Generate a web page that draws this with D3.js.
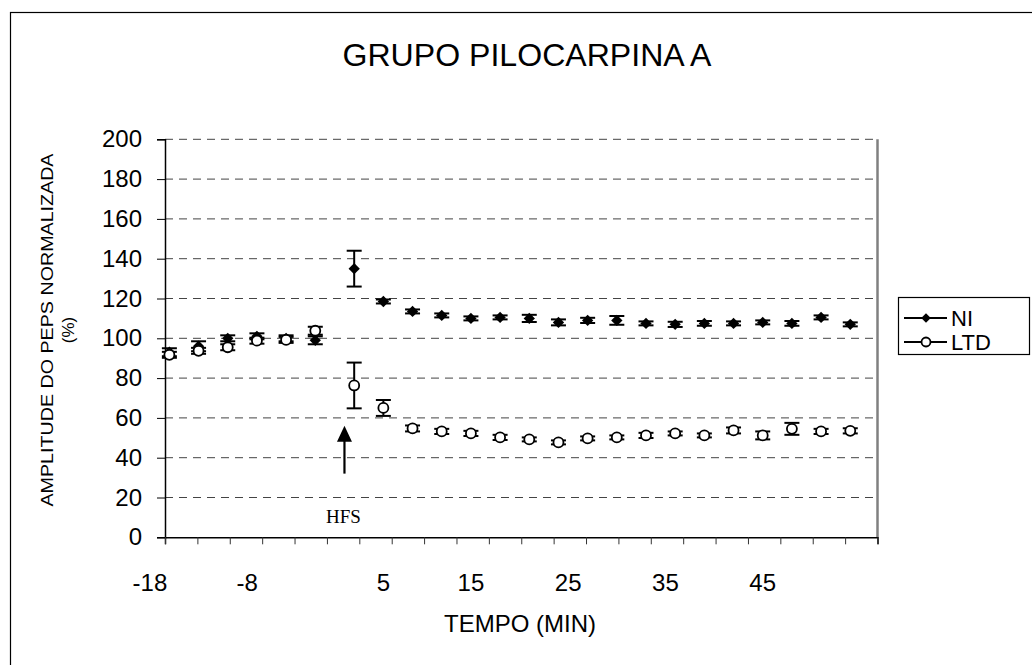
<!DOCTYPE html>
<html>
<head>
<meta charset="utf-8">
<script src="https://cdn.jsdelivr.net/npm/d3@7"></script>
<style>
  html, body { margin: 0; padding: 0; background: #fff; }
  svg { display: block; }
</style>
</head>
<body>
<svg id="chart" width="1032" height="665" font-family="Liberation Sans, Arial, sans-serif"></svg>
<script>
// Time points (min) relative to the HFS train
const times = [-16, -13, -10, -7, -4, -1, 3, 6, 9, 12, 15, 18, 21, 24, 27, 30, 33, 36, 39, 42, 45, 48, 51, 54];

// NI series: mean normalized fEPSP amplitude (%) and SEM
const niMean = [93, 96, 100, 101, 100, 99, 135, 118.5, 113.5, 111.5, 110, 110.5, 110, 108, 109, 109, 107.5, 107, 107.5, 107.5, 108, 107.5, 110.5, 107];
const niErr  = [2, 2.5, 1.5, 1.5, 1.5, 2, 9, 1, 1, 1, 1, 1, 1.8, 1.5, 1.3, 2.2, 1, 1.3, 1.2, 1, 1, 1.2, 1, 1];

// LTD series: mean normalized fEPSP amplitude (%) and SEM
const ltdMean = [91.7, 93.7, 95.5, 98.8, 99.2, 103.8, 76.3, 65, 54.7, 53.2, 52.2, 50.2, 49.2, 47.7, 49.7, 50.2, 51.2, 52.2, 51.2, 53.7, 51.2, 54.5, 53.2, 53.5];
const ltdErr  = [1.5, 1.5, 1.5, 1.5, 1.5, 2, 11.5, 4, 1.5, 1.3, 1.3, 1.3, 1, 1, 1, 1, 1.3, 1, 1, 1.5, 2, 3, 1.3, 1.3];

// Axis labelling
const yTicks = [0, 20, 40, 60, 80, 100, 120, 140, 160, 180, 200];
const xLabelText = ["-18", "-8", "5", "15", "25", "35", "45"];
const xLabelAt   = [-18, -8, 6, 15, 25, 35, 45];
const xTickCount = 23;
const xDomain = [-16.45, 56.8];

// Stimulus marker
const hfsTime = 2;
const hfsArrow = [32, 56];

const svg = d3.select("#chart");

// Outer chart frame
svg.append("rect")
  .attr("x", 10.5).attr("y", 12.5)
  .attr("width", 1030).attr("height", 660)
  .attr("fill", "none").attr("stroke", "#000").attr("stroke-width", 1.2);

const plot = { left: 165, right: 877.5, top: 139.3, bottom: 537.3 };

const x = d3.scaleLinear().domain(xDomain).range([plot.left, plot.right]);
const y = d3.scaleLinear().domain([0, 200]).range([plot.bottom, plot.top]);

// Title
svg.append("text")
  .attr("x", 527).attr("y", 66)
  .attr("text-anchor", "middle")
  .attr("font-size", 32)
  .attr("textLength", 369).attr("lengthAdjust", "spacingAndGlyphs")
  .text("GRUPO PILOCARPINA A");

// Horizontal dashed gridlines
svg.append("g")
  .selectAll("line")
  .data(yTicks.filter(d => d > 0))
  .join("line")
  .attr("x1", plot.left).attr("x2", plot.right)
  .attr("y1", d => y(d)).attr("y2", d => y(d))
  .attr("stroke", "#444").attr("stroke-width", 1)
  .attr("stroke-dasharray", "8,6");

// Plot-area frame on the right
svg.append("line")
  .attr("x1", plot.right).attr("x2", plot.right)
  .attr("y1", plot.top).attr("y2", plot.bottom)
  .attr("stroke", "#808080").attr("stroke-width", 2.5);

// Y axis
const yAxis = d3.axisLeft(y).tickValues(yTicks).tickSize(8).tickPadding(15).tickFormat(d3.format("d"));
const gy = svg.append("g").attr("transform", `translate(${plot.left},0)`).call(yAxis);
gy.select(".domain").attr("stroke", "#000").attr("stroke-width", 1.5);
gy.selectAll(".tick line").attr("stroke", "#000");
gy.selectAll(".tick text")
  .attr("font-size", 24)
  .attr("font-family", "Liberation Sans, Arial, sans-serif")
  .attr("fill", "#000");

// X axis: evenly spaced tick marks, labels placed separately
const xTickVals = d3.range(xTickCount).map(i => xDomain[0] + i * (xDomain[1] - xDomain[0]) / (xTickCount - 1));
const xAxis = d3.axisBottom(x).tickValues(xTickVals).tickSize(7).tickFormat("");
const gx = svg.append("g").attr("transform", `translate(0,${plot.bottom})`).call(xAxis);
gx.select(".domain").attr("stroke", "#000").attr("stroke-width", 1.5);
gx.selectAll(".tick line").attr("stroke", "#333");

svg.append("g")
  .selectAll("text")
  .data(xLabelText)
  .join("text")
  .attr("x", (d, i) => x(xLabelAt[i]))
  .attr("y", 591)
  .attr("text-anchor", "middle")
  .attr("font-size", 24)
  .text(d => d);

// Axis titles
svg.append("text")
  .attr("x", 520).attr("y", 632)
  .attr("text-anchor", "middle")
  .attr("font-size", 24)
  .text("TEMPO (MIN)");

svg.append("text")
  .attr("transform", "translate(53,330) rotate(-90)")
  .attr("text-anchor", "middle")
  .attr("font-size", 17)
  .attr("textLength", 353).attr("lengthAdjust", "spacingAndGlyphs")
  .text("AMPLITUDE DO PEPS NORMALIZADA");
svg.append("text")
  .attr("transform", "translate(74,330) rotate(-90)")
  .attr("text-anchor", "middle")
  .attr("font-size", 17)
  .text("(%)");

// Error bars
function errorBars(mean, err) {
  const g = svg.append("g").attr("stroke", "#000").attr("stroke-width", 2);
  const data = times.map((t, i) => ({ t, m: mean[i], e: err[i] }));
  g.selectAll(".v").data(data).join("line")
    .attr("x1", d => x(d.t)).attr("x2", d => x(d.t))
    .attr("y1", d => y(d.m - d.e)).attr("y2", d => y(d.m + d.e));
  g.selectAll(".lo").data(data).join("line")
    .attr("x1", d => x(d.t) - 7.5).attr("x2", d => x(d.t) + 7.5)
    .attr("y1", d => y(d.m - d.e)).attr("y2", d => y(d.m - d.e));
  g.selectAll(".hi").data(data).join("line")
    .attr("x1", d => x(d.t) - 7.5).attr("x2", d => x(d.t) + 7.5)
    .attr("y1", d => y(d.m + d.e)).attr("y2", d => y(d.m + d.e));
}
errorBars(niMean, niErr);
errorBars(ltdMean, ltdErr);

// NI markers: filled diamonds
svg.append("g")
  .selectAll("path")
  .data(times)
  .join("path")
  .attr("transform", (d, i) => `translate(${x(d)},${y(niMean[i])}) rotate(45)`)
  .attr("d", d3.symbol().type(d3.symbolSquare).size(64))
  .attr("fill", "#000");

// LTD markers: open circles
svg.append("g")
  .selectAll("circle")
  .data(times)
  .join("circle")
  .attr("cx", d => x(d))
  .attr("cy", (d, i) => y(ltdMean[i]))
  .attr("r", 5)
  .attr("fill", "#fff").attr("stroke", "#000").attr("stroke-width", 1.8);

// HFS arrow and label
svg.append("line")
  .attr("x1", x(hfsTime)).attr("x2", x(hfsTime))
  .attr("y1", y(hfsArrow[0])).attr("y2", y(hfsArrow[1]) + 12)
  .attr("stroke", "#000").attr("stroke-width", 2.2);
svg.append("path")
  .attr("d", `M${x(hfsTime)},${y(hfsArrow[1])} l-7.5,16 l15,0 z`)
  .attr("fill", "#000");
svg.append("text")
  .attr("x", x(hfsTime) - 1).attr("y", 523)
  .attr("text-anchor", "middle")
  .attr("font-family", "Liberation Serif, 'Times New Roman', serif")
  .attr("font-size", 19)
  .text("HFS");

// Legend
const lg = svg.append("g");
lg.append("rect")
  .attr("x", 898.5).attr("y", 297.5).attr("width", 131).attr("height", 57)
  .attr("fill", "#fff").attr("stroke", "#000").attr("stroke-width", 1.2);
const legendItems = [
  { name: "NI", cy: 318 },
  { name: "LTD", cy: 342 }
];
lg.selectAll("line.l").data(legendItems).join("line")
  .attr("x1", 904).attr("x2", 947)
  .attr("y1", d => d.cy).attr("y2", d => d.cy)
  .attr("stroke", "#000").attr("stroke-width", 2);
lg.append("path")
  .attr("transform", `translate(926,${legendItems[0].cy}) rotate(45)`)
  .attr("d", d3.symbol().type(d3.symbolSquare).size(45))
  .attr("fill", "#000");
lg.append("circle")
  .attr("cx", 926).attr("cy", legendItems[1].cy).attr("r", 4.5)
  .attr("fill", "#fff").attr("stroke", "#000").attr("stroke-width", 1.8);
lg.selectAll("text").data(legendItems).join("text")
  .attr("x", 951).attr("y", d => d.cy + 8)
  .attr("font-size", 22)
  .text(d => d.name);
</script>
</body>
</html>
